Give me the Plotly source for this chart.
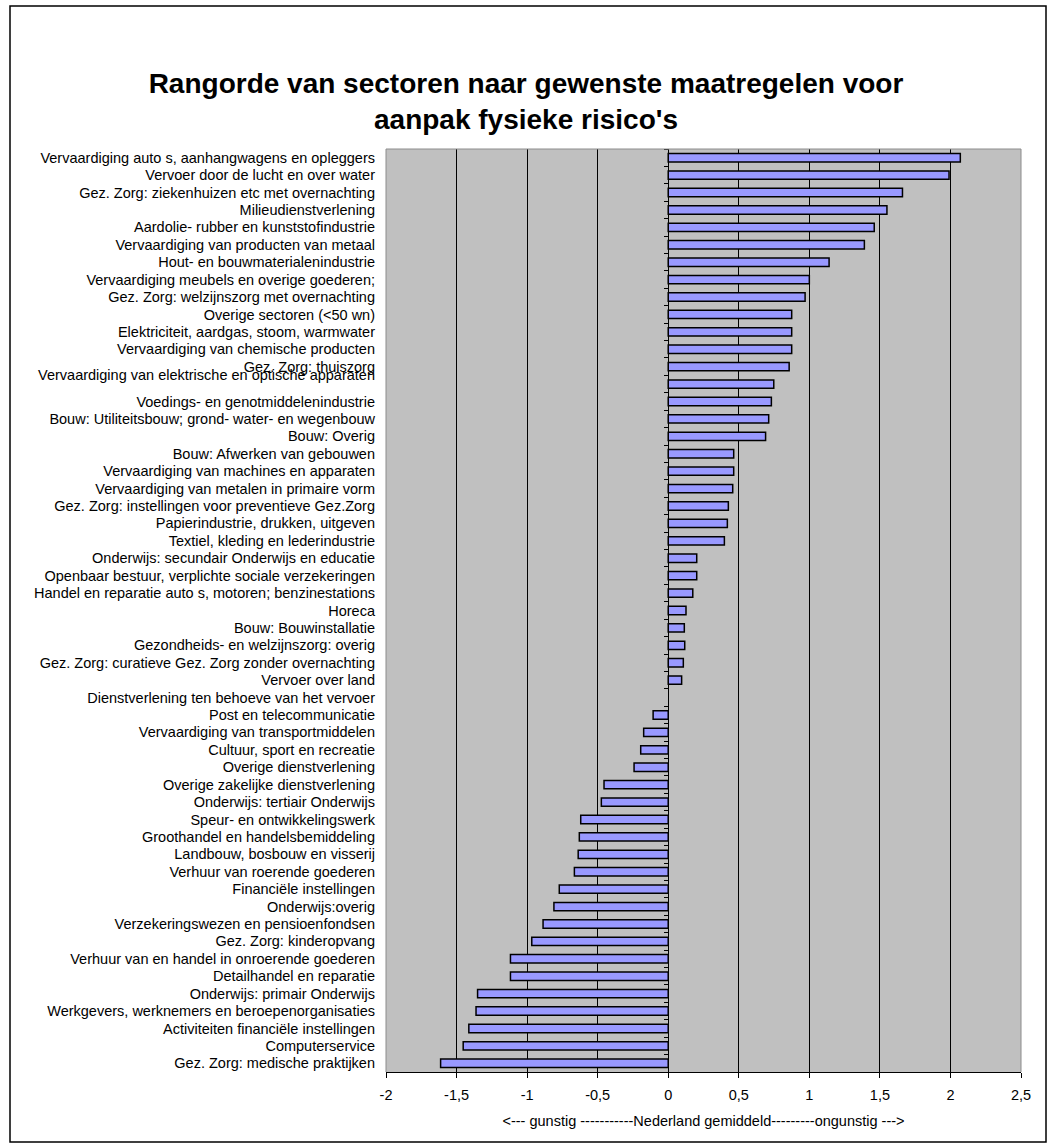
import html
import plotly.graph_objects as go

# ---------------- data ----------------
categories = [
    "Vervaardiging auto s, aanhangwagens en opleggers",
    "Vervoer door de lucht en over water",
    "Gez. Zorg: ziekenhuizen etc met overnachting",
    "Milieudienstverlening ",
    "Aardolie- rubber en kunststofindustrie",
    "Vervaardiging van producten van metaal",
    "Hout- en bouwmaterialenindustrie",
    "Vervaardiging meubels en overige goederen;",
    "Gez. Zorg: welzijnszorg met overnachting",
    "Overige sectoren (<50 wn)",
    "Elektriciteit, aardgas, stoom, warmwater",
    "Vervaardiging van chemische producten",
    "Gez. Zorg: thuiszorg",
    "Vervaardiging van elektrische en optische apparaten",
    "Voedings- en genotmiddelenindustrie",
    "Bouw: Utiliteitsbouw; grond- water- en wegenbouw",
    "Bouw: Overig",
    "Bouw: Afwerken van gebouwen",
    "Vervaardiging van machines en apparaten ",
    "Vervaardiging van metalen in primaire vorm",
    "Gez. Zorg: instellingen voor preventieve Gez.Zorg",
    "Papierindustrie, drukken, uitgeven",
    "Textiel, kleding en lederindustrie",
    "Onderwijs: secundair Onderwijs en educatie",
    "Openbaar bestuur, verplichte sociale verzekeringen ",
    "Handel en reparatie auto s, motoren; benzinestations",
    "Horeca",
    "Bouw: Bouwinstallatie",
    "Gezondheids- en welzijnszorg: overig",
    "Gez. Zorg: curatieve Gez. Zorg zonder overnachting",
    "Vervoer over land",
    "Dienstverlening ten behoeve van het vervoer",
    "Post en telecommunicatie",
    "Vervaardiging van transportmiddelen",
    "Cultuur, sport en recreatie",
    "Overige dienstverlening",
    "Overige zakelijke dienstverlening",
    "Onderwijs: tertiair Onderwijs",
    "Speur- en ontwikkelingswerk",
    "Groothandel en handelsbemiddeling",
    "Landbouw, bosbouw en visserij",
    "Verhuur van roerende goederen",
    "Financiële instellingen",
    "Onderwijs:overig",
    "Verzekeringswezen en pensioenfondsen",
    "Gez. Zorg: kinderopvang",
    "Verhuur van en handel in onroerende goederen",
    "Detailhandel en reparatie",
    "Onderwijs: primair Onderwijs",
    "Werkgevers, werknemers en beroepenorganisaties",
    "Activiteiten financiële instellingen",
    "Computerservice",
    "Gez. Zorg: medische praktijken",
]

values = [
    2.07, 1.99, 1.66, 1.55, 1.46, 1.39, 1.14, 1.00, 0.97, 0.875,
    0.875, 0.875, 0.857, 0.748, 0.731, 0.712, 0.69, 0.464, 0.464, 0.457,
    0.426, 0.419, 0.398, 0.202, 0.202, 0.174, 0.126, 0.114, 0.117, 0.107,
    0.095, None, -0.107, -0.174, -0.195, -0.242, -0.455, -0.474, -0.62, -0.63,
    -0.638, -0.665, -0.772, -0.81, -0.887, -0.967, -1.118, -1.118, -1.351, -1.362,
    -1.413, -1.453, -1.613,
]

x_tick_values = [-2, -1.5, -1, -0.5, 0, 0.5, 1, 1.5, 2, 2.5]
x_tick_labels = ["-2", "-1,5", "-1", "-0,5", "0", "0,5", "1", "1,5", "2", "2,5"]

title_text = "Rangorde van sectoren naar gewenste maatregelen voor<br>aanpak fysieke risico's"
x_title = "&lt;--- gunstig -----------Nederland gemiddeld---------ongunstig ---&gt;"
raised_label = "Vervaardiging van elektrische en optische apparaten"

# ---------------- geometry ----------------
W, H = 1052, 1148
L, R, T, B = 386, 1021, 149, 1072
PW, PH = R - L, B - T
X_MIN, X_MAX = -2, 2.5
FONT = "Arial, Liberation Sans, sans-serif"
LABEL_SIZE = 14.5


def px_x(p):
    return (p - L) / PW


def px_y(p):
    return (B - p) / PH


tick_text = []
for c in categories:
    t = html.escape(c.strip(), quote=False)
    if c == raised_label:
        t = t + "<br> "
    tick_text.append(t)

fig = go.Figure()
fig.add_trace(go.Bar(
    x=values, y=categories, orientation="h",
    marker=dict(color="#9999FF", line=dict(color="#000000", width=1.5)),
    width=0.48, showlegend=False, hoverinfo="x+y",
))
# invisible companion trace that carries the category tick marks on the zero line
fig.add_trace(go.Scatter(
    x=values, y=categories, yaxis="y2", mode="markers",
    marker=dict(opacity=0), hoverinfo="skip", showlegend=False,
))

n = len(categories)
zero_pos = (0 - X_MIN) / (X_MAX - X_MIN)

fig.update_layout(
    width=W, height=H,
    margin=dict(l=L, r=W - R, t=T, b=H - B, pad=0),
    paper_bgcolor="#FFFFFF",
    plot_bgcolor="#C0C0C0",
    font=dict(family=FONT, color="#000000", size=LABEL_SIZE),
    title=dict(
        text=title_text, x=0.5, xref="container", xanchor="center",
        y=1 - 93 / H, yref="container", yanchor="middle",
        font=dict(family=FONT, size=28, color="#000000", weight="bold"),
    ),
    bargap=0.5,
    xaxis=dict(
        range=[X_MIN, X_MAX], tickmode="array",
        tickvals=x_tick_values, ticktext=x_tick_labels,
        showgrid=True, gridcolor="#000000", gridwidth=1,
        zeroline=False, showline=True, linecolor="#000000", linewidth=1,
        ticks="outside", ticklen=5, tickcolor="#000000",
        tickfont=dict(size=LABEL_SIZE), ticklabelstandoff=5, fixedrange=True,
        title=dict(text=x_title, font=dict(size=LABEL_SIZE), standoff=13),
    ),
    yaxis=dict(
        type="category", categoryorder="array", categoryarray=categories,
        range=[n - 0.5, -0.5], tickmode="array", tickvals=categories,
        ticktext=tick_text, showgrid=False, zeroline=False, showline=False,
        ticks="", tickfont=dict(size=LABEL_SIZE), ticklabelstandoff=10,
        fixedrange=True,
    ),
    yaxis2=dict(
        type="category", overlaying="y", matches="y", anchor="free",
        position=zero_pos, side="left", showticklabels=False,
        ticks="outside", tickson="boundaries", ticklen=4, tickcolor="#000000",
        showline=True, linecolor="#000000", linewidth=1,
        showgrid=False, zeroline=False, fixedrange=True,
    ),
    shapes=[
        dict(type="path", xref="paper", yref="paper",
             path="M 0,0 L 0,1 L 1,1 L 1,0",
             line=dict(color="#8C8C8C", width=1), layer="above"),
        dict(type="rect", xref="paper", yref="paper",
             x0=px_x(10), x1=px_x(1046), y0=px_y(1142), y1=px_y(6),
             line=dict(color="#000000", width=1.5), fillcolor="rgba(0,0,0,0)",
             layer="below"),
    ],
)

fig.write_html(
    "out.html",
    config={"displayModeBar": False},
    post_script="document.body.style.margin='0';document.body.style.overflow='hidden';",
)
